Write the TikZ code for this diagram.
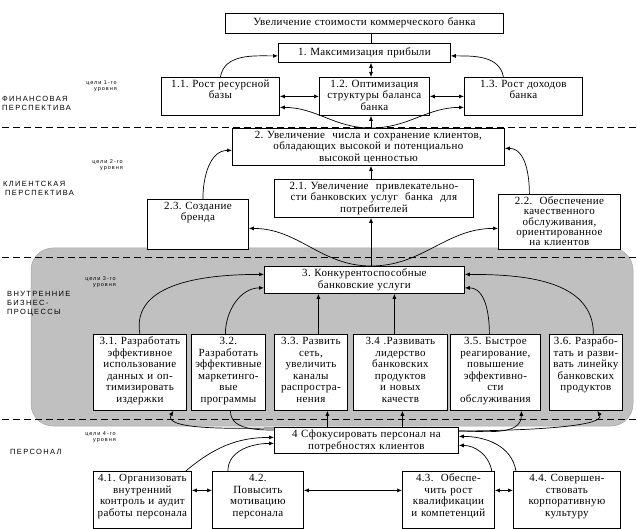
\documentclass[tikz,border=0pt]{standalone}
\usepackage{fontspec}
\setmainfont[LetterSpace=3]{Liberation Serif}
\newfontfamily\perspfont[LetterSpace=18]{Liberation Sans}
\usetikzlibrary{arrows.meta}
\definecolor{zonegray}{RGB}{192,192,192}
\frenchspacing
\setlength{\parindent}{0pt}
\begin{document}
\begin{tikzpicture}[x=1pt,y=1pt,
    goal/.style 2 args={draw, fill=white, line width=0.8pt, anchor=north west,
      align=center, inner xsep=1pt, inner ysep=2pt, text height=8pt,
      text width=#1pt, text depth=#2pt, font=\fontsize{11}{11.6}\selectfont\frenchspacing},
    link/.style={-{Latex[length=5pt,width=4pt]}, line width=0.7pt},
    dlink/.style={{Latex[length=5pt,width=4pt]}-{Latex[length=5pt,width=4pt]}, line width=0.7pt},
    divider/.style={dash pattern=on 7pt off 4pt, line width=0.8pt},
    tag/.style={anchor=north west, align=left, inner sep=0pt, font=\perspfont\fontsize{7.5}{9}\selectfont},
    lvl/.style={anchor=north east, align=right, inner sep=0pt, font=\perspfont\fontsize{5.5}{6}\selectfont}]
    \useasboundingbox (0,0) rectangle (637,-529);
    % zone of internal processes and the level dividers
    \filldraw[fill=zonegray, draw=gray!70, line width=0.5pt, rounded corners=22pt] (31,-248) rectangle (633,-426);
    \draw[divider] (2,-127.5) -- (637,-127.5);
    \draw[divider] (2,-257) -- (637,-257);
    \draw[divider] (2,-419) -- (637,-419);
    % goals
    \node[goal={276}{5.5}, text height=10.5pt] (top) at (225,-13) {Увеличение стоимости коммерческого банка};
    \node[goal={170}{5}, text height=10pt] (b1) at (278,-43) {1. Максимизация прибыли};
    \node[goal={116}{26}] (b11) at (161,-77) {1.1. Рост ресурсной\\базы};
    \node[goal={108}{26}] (b12) at (319,-77) {1.2. Оптимизация\\структуры баланса\\банка};
    \node[goal={116}{26}] (b13) at (464,-77) {1.3. Рост доходов\\банка};
    \node[goal={270}{25}] (b2) at (232,-128) {2. Увеличение \ числа и сохранение клиентов,\\обладающих высокой и потенциально\\высокой ценностью};
    \node[goal={197}{26}] (b21) at (274,-179) {2.1. Увеличение \ привлекательно-\\сти банковских услуг \ банка \ для\\потребителей};
    \node[goal={99}{38}] (b23) at (147,-199) {2.3. Создание\\бренда};
    \node[goal={120}{43}, font=\fontsize{11}{10.4}\selectfont] (b22) at (498,-194) {2.2. \ Обеспечение\\качественного\\обслуживания,\\ориентированное\\на клиентов};
    \node[goal={198}{15}] (b3) at (264,-266) {3. Конкурентоспособные\\банковские услуги};
    \node[goal={91}{64}] (b31) at (93,-334) {3.1. Разработать\\эффективное\\использование\\данных и оп-\\тимизировать\\издержки};
    \node[goal={72}{64}] (b32) at (191,-334) {3.2.\\Разработать\\эффективные\\маркетинго-\\вые\\программы};
    \node[goal={71}{64}] (b33) at (274,-334) {3.3. Развить\\сеть,\\увеличить\\каналы\\распростра-\\нения};
    \node[goal={92}{64}] (b34) at (353,-334) {3.4 .Развивать\\лидерство\\банковских\\продуктов\\и новых\\качеств};
    \node[goal={88}{64}] (b35) at (450,-334) {3.5. Быстрое\\реагирование,\\повышение\\эффективно-\\сти\\обслуживания};
    \node[goal={71}{64}] (b36) at (549,-334) {3.6. Разрабо-\\тать и разви-\\вать линейку\\банковских\\продуктов};
    \node[goal={182}{14}] (b4) at (274,-427) {4 Сфокусировать персонал на\\потребностях клиентов};
    \node[goal={96}{45}] (b41) at (93,-471) {4.1. Организовать\\внутренний\\контроль и аудит\\работы персонала};
    \node[goal={89}{45}] (b42) at (212,-471) {4.2.\\Повысить\\мотивацию\\персонала};
    \node[goal={90}{45}] (b43) at (402,-471) {4.3. \ Обеспе-\\чить рост\\квалификации\\и компетенций};
    \node[goal={105}{45}] (b44) at (513,-471) {4.4. Совершен-\\ствовать\\корпоративную\\культуру};
    % perspectives
    \node[lvl] (n1) at (117,-81) {цели 1-го\\уровня};
    \node[tag] (p1) at (2,-96) {ФИНАНСОВАЯ\\ПЕРСПЕКТИВА};
    \node[lvl] (n2) at (123,-159) {цели 2-го\\уровня};
    \node[tag] (p2) at (3,-181) {КЛИЕНТСКАЯ\\\hspace{2pt}ПЕРСПЕКТИВА};
    \node[lvl] (n3) at (116,-276) {цели 3-го\\уровня};
    \node[tag] (p3) at (7,-291) {ВНУТРЕННИЕ\\БИЗНЕС-\\ПРОЦЕССЫ};
    \node[lvl] (n4) at (116,-432) {цели 4-го\\уровня};
    \node[tag] (p4) at (10,-449) {ПЕРСОНАЛ};
    % helper points
    \coordinate (spine) at (371,0);
    \coordinate (t33) at ([xshift=7.5pt]b33.north);
    \coordinate (t34) at ([xshift=-6pt]b34.north);
    \coordinate (s33) at ([xshift=16.5pt]b33.south);
    \coordinate (s34) at ([xshift=2pt]b34.south);
    % level 1
    \draw[line width=0.7pt] (top.south -| spine) -- (b1.north -| spine);
    \draw[dlink] (b1.south -| spine) -- (b12.north -| spine);
    \draw[link] (b11.north) to[out=80,in=180] ([yshift=-3pt]b1.west);
    \draw[link] ([xshift=-20pt]b13.north) to[out=100,in=0] ([yshift=-3pt]b1.east);
    \draw[dlink] (b11.east) -- (b12.west);
    \draw[dlink] (b12.east) -- (b13.west);
    % level 2
    \draw[link] (b2.north -| spine) -- (b12.south -| spine);
    \draw[link] (b2.north -| spine) to[out=180,in=0] ([yshift=-11pt]b11.east);
    \draw[link] (b2.north -| spine) to[out=0,in=180] ([yshift=-11pt]b13.west);
    \draw[link] (b21.north -| spine) -- (b2.south -| spine);
    \draw[link] ([xshift=5pt]b23.north) to[out=90,in=180] ([yshift=-3.5pt]b2.west);
    \draw[link] ([xshift=-30pt]b22.north) to[out=90,in=0] ([yshift=-1.5pt]b2.east);
    % level 3
    \draw[link] (b3.north -| spine) -- (b21.south -| spine);
    \draw[link] (b3.north -| spine) to[out=180,in=0] ([yshift=-4pt]b23.east);
    \draw[link] (b3.north -| spine) to[out=0,in=180] ([yshift=-6.5pt]b22.west);
    \draw[link] (b31.north) to[out=100,in=180] ([yshift=5.5pt]b3.west);
    \draw[link] ([xshift=-3pt]b32.north) to[out=90,in=180] ([yshift=-8pt]b3.west);
    \draw[link] (t33) -- (t33 |- b3.south);
    \draw[link] (t34) -- (t34 |- b3.south);
    \draw[link] ([xshift=-6pt]b35.north) to[out=90,in=0] ([yshift=-8pt]b3.east);
    \draw[link] ([xshift=7.5pt]b36.north) to[out=90,in=0] ([yshift=5.5pt]b3.east);
    % level 4
    \draw[link] (b4.north -| s33) -- (s33);
    \draw[link] (b4.north -| s34) -- (s34);
    \draw[link] ([yshift=-1pt]b4.north west) to[out=180,in=-120,looseness=0.6] ([xshift=33.5pt]b31.south);
    \draw[line width=0.7pt] ([xshift=2pt]b32.south) to[out=-90,in=180] ([yshift=-3pt]b4.north west);
    \draw[link] ([yshift=-4pt]b4.north east) to[out=0,in=-90] ([xshift=26pt]b35.south);
    \draw[link] ([yshift=-4pt]b4.north east) to[out=0,in=-60,looseness=0.4] ([xshift=11.5pt]b36.south);
    \draw[link] ([xshift=-6pt]b41.north east) to[out=40,in=180] ([yshift=3pt]b4.west);
    \draw[link] ([xshift=-30pt]b42.north) to[out=90,in=180] ([yshift=-3pt]b4.west);
    \draw[link] ([xshift=-3pt]b43.north east) to[out=100,in=0] ([yshift=-5pt]b4.east);
    \draw[link] ([xshift=3pt]b44.north west) to[out=100,in=0] ([yshift=4pt]b4.east);
    \draw[dlink] ([yshift=9.5pt]b41.east) -- ([yshift=9.5pt]b42.west);
    \draw[dlink] ([yshift=9.5pt]b42.east) -- ([yshift=9.5pt]b43.west);
    \draw[dlink] ([yshift=9.5pt]b43.east) -- ([yshift=9.5pt]b44.west);
\end{tikzpicture}
\end{document}
